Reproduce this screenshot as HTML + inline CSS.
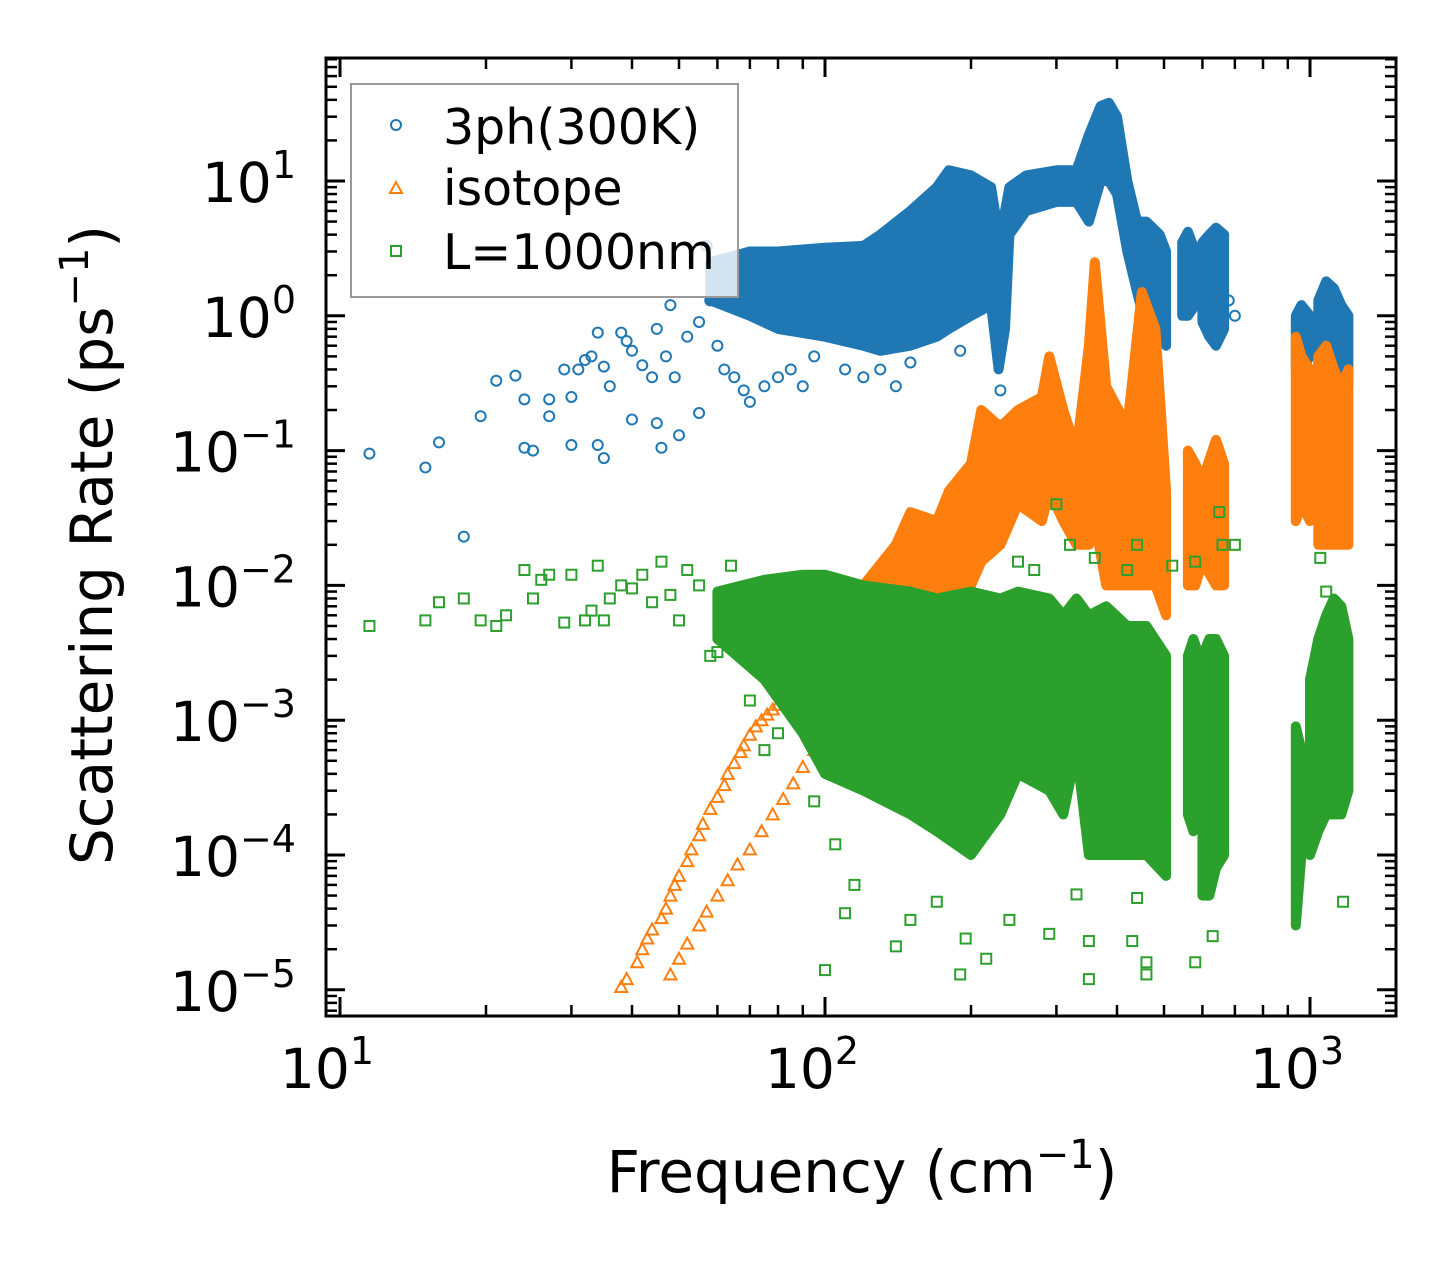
<!DOCTYPE html>
<html><head><meta charset="utf-8">
<style>
html,body{margin:0;padding:0;background:#fff;}
svg{display:block;font-family:"DejaVu Sans","Liberation Sans",sans-serif;}
</style></head>
<body>
<svg id="chart" width="1455" height="1265" viewBox="0 0 1455 1265" xmlns="http://www.w3.org/2000/svg">
<rect width="1455" height="1265" fill="#fff"/>
<defs><clipPath id="clip"><rect x="326" y="58" width="1070" height="958"/></clipPath></defs>
<g id="series" clip-path="url(#clip)"></g>
<g id="axes"></g>
<g id="legend">
  <rect x="351" y="84" width="387" height="213" fill="#fff" fill-opacity="0.8" stroke="#999" stroke-width="2"/>
  <g>
    <circle cx="396" cy="125" r="5" fill="none" stroke="#1f77b4" stroke-width="2"/>
    <text x="443" y="144" font-size="49">3ph(300K)</text>
  </g>
  <g>
    <path d="M396,182 L402,193 L390,193 Z" fill="none" stroke="#ff7f0e" stroke-width="2"/>
    <text x="443" y="205" font-size="49">isotope</text>
  </g>
  <g>
    <rect x="391" y="246" width="10" height="10" fill="none" stroke="#2ca02c" stroke-width="2"/>
    <text x="443" y="269" font-size="49">L=1000nm</text>
  </g>
</g>
<text x="862" y="1192" font-size="58" text-anchor="middle">Frequency (cm<tspan font-size="40" dy="-24">−1</tspan><tspan dy="24">)</tspan></text>
<text transform="translate(112,545) rotate(-90)" font-size="58" text-anchor="middle">Scattering Rate (ps<tspan font-size="40" dy="-24">−1</tspan><tspan dy="24">)</tspan></text>
</svg>
<script>
// ---- data ----
const blueBandX = [[58,70,80,100,120,130,150,170,180,200,220,228,235,240,260,300,330,350,370,385,400,420,440,460,490,505],[545,560,580],[600,620,640,665],[935,960,1000],[1040,1080,1120,1160,1200]];
const blueBandLo = [[1.3,1.0,0.8,0.7,0.6,0.55,0.6,0.7,0.8,1.0,1.2,0.4,0.8,4,6,7,7,5,10,10,8,3,1.5,0.8,1.0,0.6],[1.0,1.0,1.2],[0.9,0.7,0.6,0.8],[0.4,0.4,0.5],[0.3,0.3,0.3,0.25,0.3]];
const blueBandHi = [[2.5,3.0,3.0,3.2,3.3,4,6,9,12,11,9,4,6,9,11,12,12,22,36,38,30,10,5,5,4,3],[3.5,4.2,3],[3.5,4,4.5,4],[1.0,1.2,1.0],[1.3,1.8,1.6,1.2,1.0]];
const orangeBandX = [[120,140,150,170,180,200,210,230,250,280,290,310,330,350,360,380,420,450,480,505],[560,580,600,640,665],[935,960,1000],[1040,1080,1120,1160,1200]];
const orangeBandLo = [[0.003,0.004,0.005,0.008,0.01,0.01,0.015,0.02,0.04,0.03,0.05,0.03,0.02,0.02,0.03,0.01,0.01,0.01,0.01,0.006],[0.01,0.01,0.015,0.01,0.01],[0.03,0.04,0.03],[0.02,0.02,0.02,0.02,0.02]];
const orangeBandHi = [[0.01,0.02,0.035,0.03,0.05,0.08,0.2,0.15,0.2,0.25,0.5,0.2,0.1,0.6,2.5,0.3,0.15,1.5,0.8,0.05],[0.1,0.08,0.06,0.12,0.08],[0.7,0.5,0.4],[0.5,0.6,0.4,0.3,0.4]];
const greenBandX = [[60,75,90,100,120,150,170,200,230,250,290,310,330,350,380,420,460,505],[560,575,590],[600,620,640,665],[935,960,990],[1000,1040,1080,1120,1160,1200]];
const greenBandLo = [[0.004,0.002,0.0008,0.0004,0.0003,0.0002,0.00015,0.0001,0.0002,0.0004,0.0003,0.0002,0.0006,0.0001,0.0001,0.0001,0.0001,0.00007],[0.0002,0.00015,0.0002],[0.00005,0.00005,0.00008,0.0001],[0.00003,0.0001,0.0002],[0.0001,0.00015,0.0002,0.0002,0.0002,0.0003]];
const greenBandHi = [[0.009,0.011,0.012,0.012,0.01,0.009,0.008,0.009,0.008,0.009,0.008,0.006,0.008,0.006,0.007,0.005,0.005,0.003],[0.003,0.004,0.003],[0.003,0.004,0.004,0.003],[0.0009,0.0006,0.0005],[0.002,0.004,0.006,0.008,0.007,0.004]];
const blueX = [11.5,15,16,18,19.5,21,23,24,24,25,27,27,29,30,30,31,32,33,34,34,35,35,36,38,39,40,40,42,44,45,45,46,47,48,49,50,52,55,55,57,58,60,62,65,68,70,75,80,85,90,95,110,120,130,140,150,190,230,700,680];
const blueY = [0.095,0.075,0.115,0.023,0.18,0.33,0.36,0.24,0.105,0.1,0.24,0.18,0.4,0.25,0.11,0.4,0.47,0.5,0.75,0.11,0.088,0.42,0.3,0.75,0.65,0.55,0.17,0.43,0.35,0.8,0.16,0.105,0.5,1.2,0.35,0.13,0.7,0.9,0.19,3.3,1.3,0.6,0.4,0.35,0.28,0.23,0.3,0.35,0.4,0.3,0.5,0.4,0.35,0.4,0.3,0.45,0.55,0.28,1.0,1.3];
const orangeX = [38,39,41,42,43,44,46,47,48,49,50,52,53,55,56,58,60,62,63,65,67,68,70,72,74,76,78,80,83,86,90,95,100,105,110,115,48,50,52,55,57,60,63,66,70,74,78,82,86,90,95,100];
const orangeY = [1.05e-5,1.2e-5,1.6e-5,2e-5,2.4e-5,2.8e-5,3.4e-5,4e-5,5e-5,6e-5,7e-5,9e-5,1.1e-4,1.4e-4,1.7e-4,2.2e-4,2.7e-4,3.3e-4,4e-4,4.8e-4,5.8e-4,6.5e-4,7.8e-4,9e-4,1e-3,1.1e-3,1.2e-3,1.3e-3,1.4e-3,1.6e-3,1.8e-3,2e-3,2.2e-3,2.5e-3,2.7e-3,3e-3,1.3e-5,1.7e-5,2.2e-5,3e-5,3.8e-5,5e-5,6.5e-5,8.5e-5,1.1e-4,1.5e-4,2e-4,2.6e-4,3.4e-4,4.5e-4,6e-4,8e-4];
const greenX = [11.5,15,16,18,19.5,21,22,24,25,26,27,29,30,32,33,34,35,36,38,40,42,44,46,48,50,52,55,58,60,64,70,75,80,95,100,105,110,115,140,150,170,190,195,215,240,290,330,350,350,430,440,460,460,580,630,1170,1120,300,320,360,420,440,520,580,650,700,1050,1080,660,270,250];
const greenY = [0.005,0.0055,0.0075,0.008,0.0055,0.005,0.006,0.013,0.008,0.011,0.012,0.0053,0.012,0.0055,0.0065,0.014,0.0055,0.008,0.01,0.0095,0.012,0.0075,0.015,0.0085,0.0055,0.013,0.01,0.003,0.0032,0.014,0.0014,0.0006,0.0008,0.00025,0.000014,0.00012,0.000037,0.00006,0.000021,0.000033,0.000045,0.000013,0.000024,0.000017,0.000033,0.000026,0.000051,0.000023,0.000012,0.000023,0.000048,0.000013,0.000016,0.000016,0.000025,0.000045,0.0014,0.04,0.02,0.016,0.013,0.02,0.014,0.015,0.035,0.02,0.016,0.009,0.02,0.013,0.015];
const xTickVals = [10,100,1000];
const xTickExp = ["1","2","3"];
const yTickVals = [10,1,0.1,0.01,0.001,0.0001,0.00001];
const yTickExp = ["1","0","−1","−2","−3","−4","−5"];

const X0=340, XD=485, Y0=181, YD=134.8;
const xs = v => X0 + (Math.log10(v)-1)*XD;
const ys = v => Y0 - (Math.log10(v)-1)*YD;
const NS="http://www.w3.org/2000/svg";
const S=document.getElementById('series'), A=document.getElementById('axes');
function mk(tag, attrs, parent){const e=document.createElementNS(NS,tag);for(const k in attrs)e.setAttribute(k,attrs[k]);parent.appendChild(e);return e;}

function band(bx,lo,hi,color,name){
  for(let s=0;s<bx.length;s++){
    let pts=[];
    for(let i=0;i<bx[s].length;i++) pts.push(xs(bx[s][i]).toFixed(1)+','+ys(hi[s][i]).toFixed(1));
    for(let i=bx[s].length-1;i>=0;i--) pts.push(xs(bx[s][i]).toFixed(1)+','+ys(lo[s][i]).toFixed(1));
    const p=mk('polygon',{points:pts.join(' '),fill:color,stroke:color,'stroke-width':10,'stroke-linejoin':'round'},S);
    
    
  }
}
function pts(xa,ya,color,shape,name){
  for(let i=0;i<xa.length;i++){
    const cx=xs(xa[i]), cy=ys(ya[i]); let e;
    if(shape==='c') e=mk('circle',{cx:cx,cy:cy,r:5,fill:'none',stroke:color,'stroke-width':2},S);
    else if(shape==='s') e=mk('rect',{x:cx-5,y:cy-5,width:10,height:10,fill:'none',stroke:color,'stroke-width':2},S);
    else e=mk('path',{d:`M${cx},${cy-6} L${cx+6},${cy+5} L${cx-6},${cy+5} Z`,fill:'none',stroke:color,'stroke-width':2},S);
    
    
  }
}
band(blueBandX,blueBandLo,blueBandHi,'#1f77b4','3ph');
pts(blueX,blueY,'#1f77b4','c','3ph');
band(orangeBandX,orangeBandLo,orangeBandHi,'#ff7f0e','isotope');
pts(orangeX,orangeY,'#ff7f0e','t','isotope');
band(greenBandX,greenBandLo,greenBandHi,'#2ca02c','boundary');
pts(greenX,greenY,'#2ca02c','s','boundary');

const L=326,R=1396,T=58,B=1016;
const fr=mk('rect',{x:L,y:T,width:R-L,height:B-T,fill:'none',stroke:'#000','stroke-width':3},A);


function line(x1,y1,x2,y2,w){mk('line',{x1:x1,y1:y1,x2:x2,y2:y2,stroke:'#000','stroke-width':w},A);}
for(let d=10;d<=1000;d*=10){
  for(let m=1;m<10;m++){
    const v=d*m, x=xs(v); if(x<L||x>R) continue;
    const len=m===1?19:11, w=m===1?3:2.5;
    line(x,B,x,B-len,w); line(x,T,x,T+len,w);
  }
}
for(let i=0;i<xTickVals.length;i++){
  const t=mk('text',{x:xs(xTickVals[i])-13,y:1088,'font-size':55,'text-anchor':'middle'},A);
  t.innerHTML='10<tspan font-size="38" dy="-24">'+xTickExp[i]+'</tspan>';
  
  
}
for(let d=1e-6;d<=100;d*=10){
  for(let m=1;m<10;m++){
    const v=d*m, y=ys(v); if(y<T||y>B) continue;
    const len=m===1?19:11, w=m===1?3:2.5;
    line(L,y,L+len,y,w); line(R,y,R-len,y,w);
  }
}
for(let i=0;i<yTickVals.length;i++){
  const t=mk('text',{x:296,y:ys(yTickVals[i])+21,'font-size':55,'text-anchor':'end'},A);
  t.innerHTML='10<tspan font-size="38" dy="-24">'+yTickExp[i]+'</tspan>';
  
  
}
</script>
</body></html>
